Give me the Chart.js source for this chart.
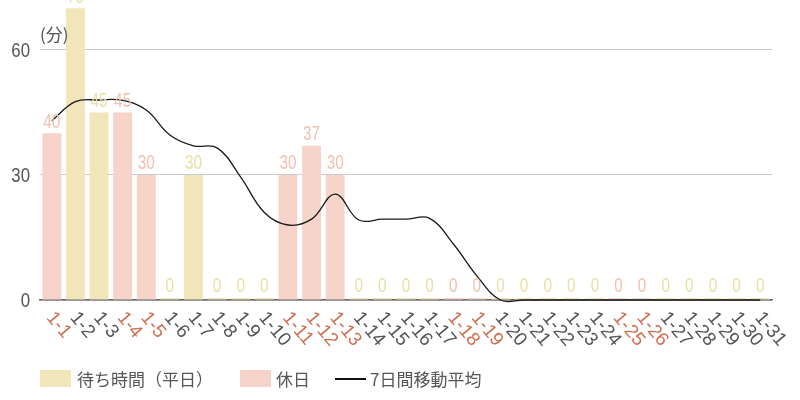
<!DOCTYPE html>
<html lang="ja">
<head>
<meta charset="utf-8">
<title>待ち時間</title>
<script src="https://cdn.jsdelivr.net/npm/chart.js@4.4.1/dist/chart.umd.min.js"></script>
<style>
    body { margin: 0; background: #fff; }
    #wrap { position: relative; width: 800px; height: 400px; }
    .lg { position: absolute; font: 17px "Noto Sans CJK JP", sans-serif; color: #555; line-height: 20px; top: 369px; white-space: nowrap; }
    .box { position: absolute; top: 370px; width: 31px; height: 17px; }
    .ln { position: absolute; top: 378px; width: 31px; height: 2px; background: #111; }
</style>
</head>
<body>
<div id="wrap">
    <canvas id="waitChart"></canvas>
    <div class="box" style="left:40px;background:#f1e6b9"></div>
    <div class="lg" style="left:77px">待ち時間（平日）</div>
    <div class="box" style="left:240px;background:#f6d4c9"></div>
    <div class="lg" style="left:276px">休日</div>
    <div class="ln" style="left:335px"></div>
    <div class="lg" style="left:370px">7日間移動平均</div>
</div>
<script>
// Data
const days = ['1-1', '1-2', '1-3', '1-4', '1-5', '1-6', '1-7', '1-8', '1-9', '1-10',
    '1-11', '1-12', '1-13', '1-14', '1-15', '1-16', '1-17', '1-18', '1-19', '1-20',
    '1-21', '1-22', '1-23', '1-24', '1-25', '1-26', '1-27', '1-28', '1-29', '1-30', '1-31'];

// weekday waits (null = holiday)
const weekdayWait = [null, 70, 45, null, null, 0, 30, 0, 0, 0,
    null, null, null, 0, 0, 0, 0, null, null, 0,
    0, 0, 0, 0, null, null, 0, 0, 0, 0, 0];

// holiday waits (null = weekday)
const holidayWait = [40, null, null, 45, 30, null, null, null, null, null,
    30, 37, 30, null, null, null, null, 0, 0, null,
    null, null, null, null, 0, 0, null, null, null, null, null];

// 7-day moving average
const movingAvg = [43, 47.6, 48, 47.9, 45.6, 39.6, 37, 36.5, 29.5, 21,
    18, 19.4, 25.4, 19.2, 19.4, 19.4, 19.6, 13.5, 5.8, 0,
    0, 0, 0, 0, 0, 0, 0, 0, 0, 0, 0];

const yTicks = [0, 30, 60];
const unitLabel = '(分)';

const colors = {
    weekday: '#f1e6b9',
    holiday: '#f6d4c9',
    weekdayText: '#eadfa4',
    holidayText: '#f0c1b1',
    holidayTick: '#cf6f52',
    tick: '#555'
};

// draw text squeezed horizontally (no condensed font installed)
function narrowText(ctx, text, x, y, sx) {
    ctx.save();
    ctx.translate(x, y);
    ctx.scale(sx, 1);
    ctx.fillText(text, 0, 0);
    ctx.restore();
}

// Value labels above bars
const valueLabels = {
    id: 'valueLabels',
    afterDatasetsDraw(chart) {
        const ctx = chart.ctx;
        ctx.save();
        ctx.font = '21px "Liberation Sans", sans-serif';
        ctx.textAlign = 'center';
        ctx.textBaseline = 'bottom';
        [0, 1].forEach(di => {
            const meta = chart.getDatasetMeta(di);
            const data = chart.data.datasets[di].data;
            ctx.fillStyle = di === 0 ? colors.weekdayText : colors.holidayText;
            meta.data.forEach((bar, i) => {
                if (data[i] === null) return;
                narrowText(ctx, String(data[i]), bar.x, bar.y - 1, 0.73);
            });
        });
        ctx.restore();
    }
};

// Y tick labels, rotated date labels, unit label
const axisText = {
    id: 'axisText',
    afterDraw(chart) {
        const ctx = chart.ctx;
        const xs = chart.scales.x;
        const ys = chart.scales.y;
        const area = chart.chartArea;
        ctx.save();

        ctx.font = '21px "Liberation Sans", sans-serif';
        ctx.fillStyle = colors.tick;
        ctx.textAlign = 'right';
        ctx.textBaseline = 'middle';
        yTicks.forEach(v => narrowText(ctx, String(v), area.left - 10, ys.getPixelForValue(v) + 1, 0.8));

        ctx.font = '19px "Liberation Sans", sans-serif';
        ctx.textAlign = 'left';
        ctx.textBaseline = 'alphabetic';
        days.forEach((d, i) => {
            const x = xs.getPixelForTick(i);
            ctx.save();
            ctx.translate(x - 6, area.bottom + 18);
            ctx.rotate(50 * Math.PI / 180);
            ctx.fillStyle = holidayWait[i] !== null ? colors.holidayTick : colors.tick;
            ctx.fillText(d, 0, 0);
            ctx.restore();
        });

        ctx.font = '17px "Noto Sans CJK JP", sans-serif';
        ctx.fillStyle = colors.tick;
        ctx.textBaseline = 'middle';
        ctx.fillText(unitLabel, area.left, 35);
        ctx.restore();
    }
};

const ctx = document.getElementById('waitChart').getContext('2d');
new Chart(ctx, {
    data: {
        labels: days,
        datasets: [{
            type: 'bar',
            label: '待ち時間（平日）',
            data: weekdayWait,
            backgroundColor: colors.weekday,
            stack: 'wait',
            order: 2,
            minBarLength: 2,
            barPercentage: 0.8,
            categoryPercentage: 1
        }, {
            type: 'bar',
            label: '休日',
            data: holidayWait,
            backgroundColor: colors.holiday,
            stack: 'wait',
            order: 2,
            minBarLength: 2,
            barPercentage: 0.8,
            categoryPercentage: 1
        }, {
            type: 'line',
            label: '7日間移動平均',
            data: movingAvg,
            borderColor: '#1a1a1a',
            borderWidth: 1.3,
            pointRadius: 0,
            tension: 0.4,
            capBezierPoints: false,
            clip: false,
            stack: 'avg',
            order: 0
        }]
    },
    options: {
        responsive: true,
        maintainAspectRatio: false,
        animation: false,
        layout: { padding: { top: 0, right: 28, left: 0, bottom: 0 } },
        plugins: {
            legend: { display: false },
            tooltip: { enabled: false }
        },
        scales: {
            x: {
                stacked: true,
                grid: { display: false },
                border: { color: '#666', width: 1.5 },
                ticks: { display: false },
                afterFit: s => { s.height = 100; }
            },
            y: {
                stacked: true,
                min: 0,
                max: 72,
                border: { display: false },
                grid: { color: '#cccccc', drawTicks: false },
                ticks: { display: false, stepSize: 30 },
                afterBuildTicks: s => { s.ticks = yTicks.map(v => ({ value: v })); },
                afterFit: s => { s.width = 40; }
            }
        }
    },
    plugins: [valueLabels, axisText]
});
</script>
</body>
</html>
